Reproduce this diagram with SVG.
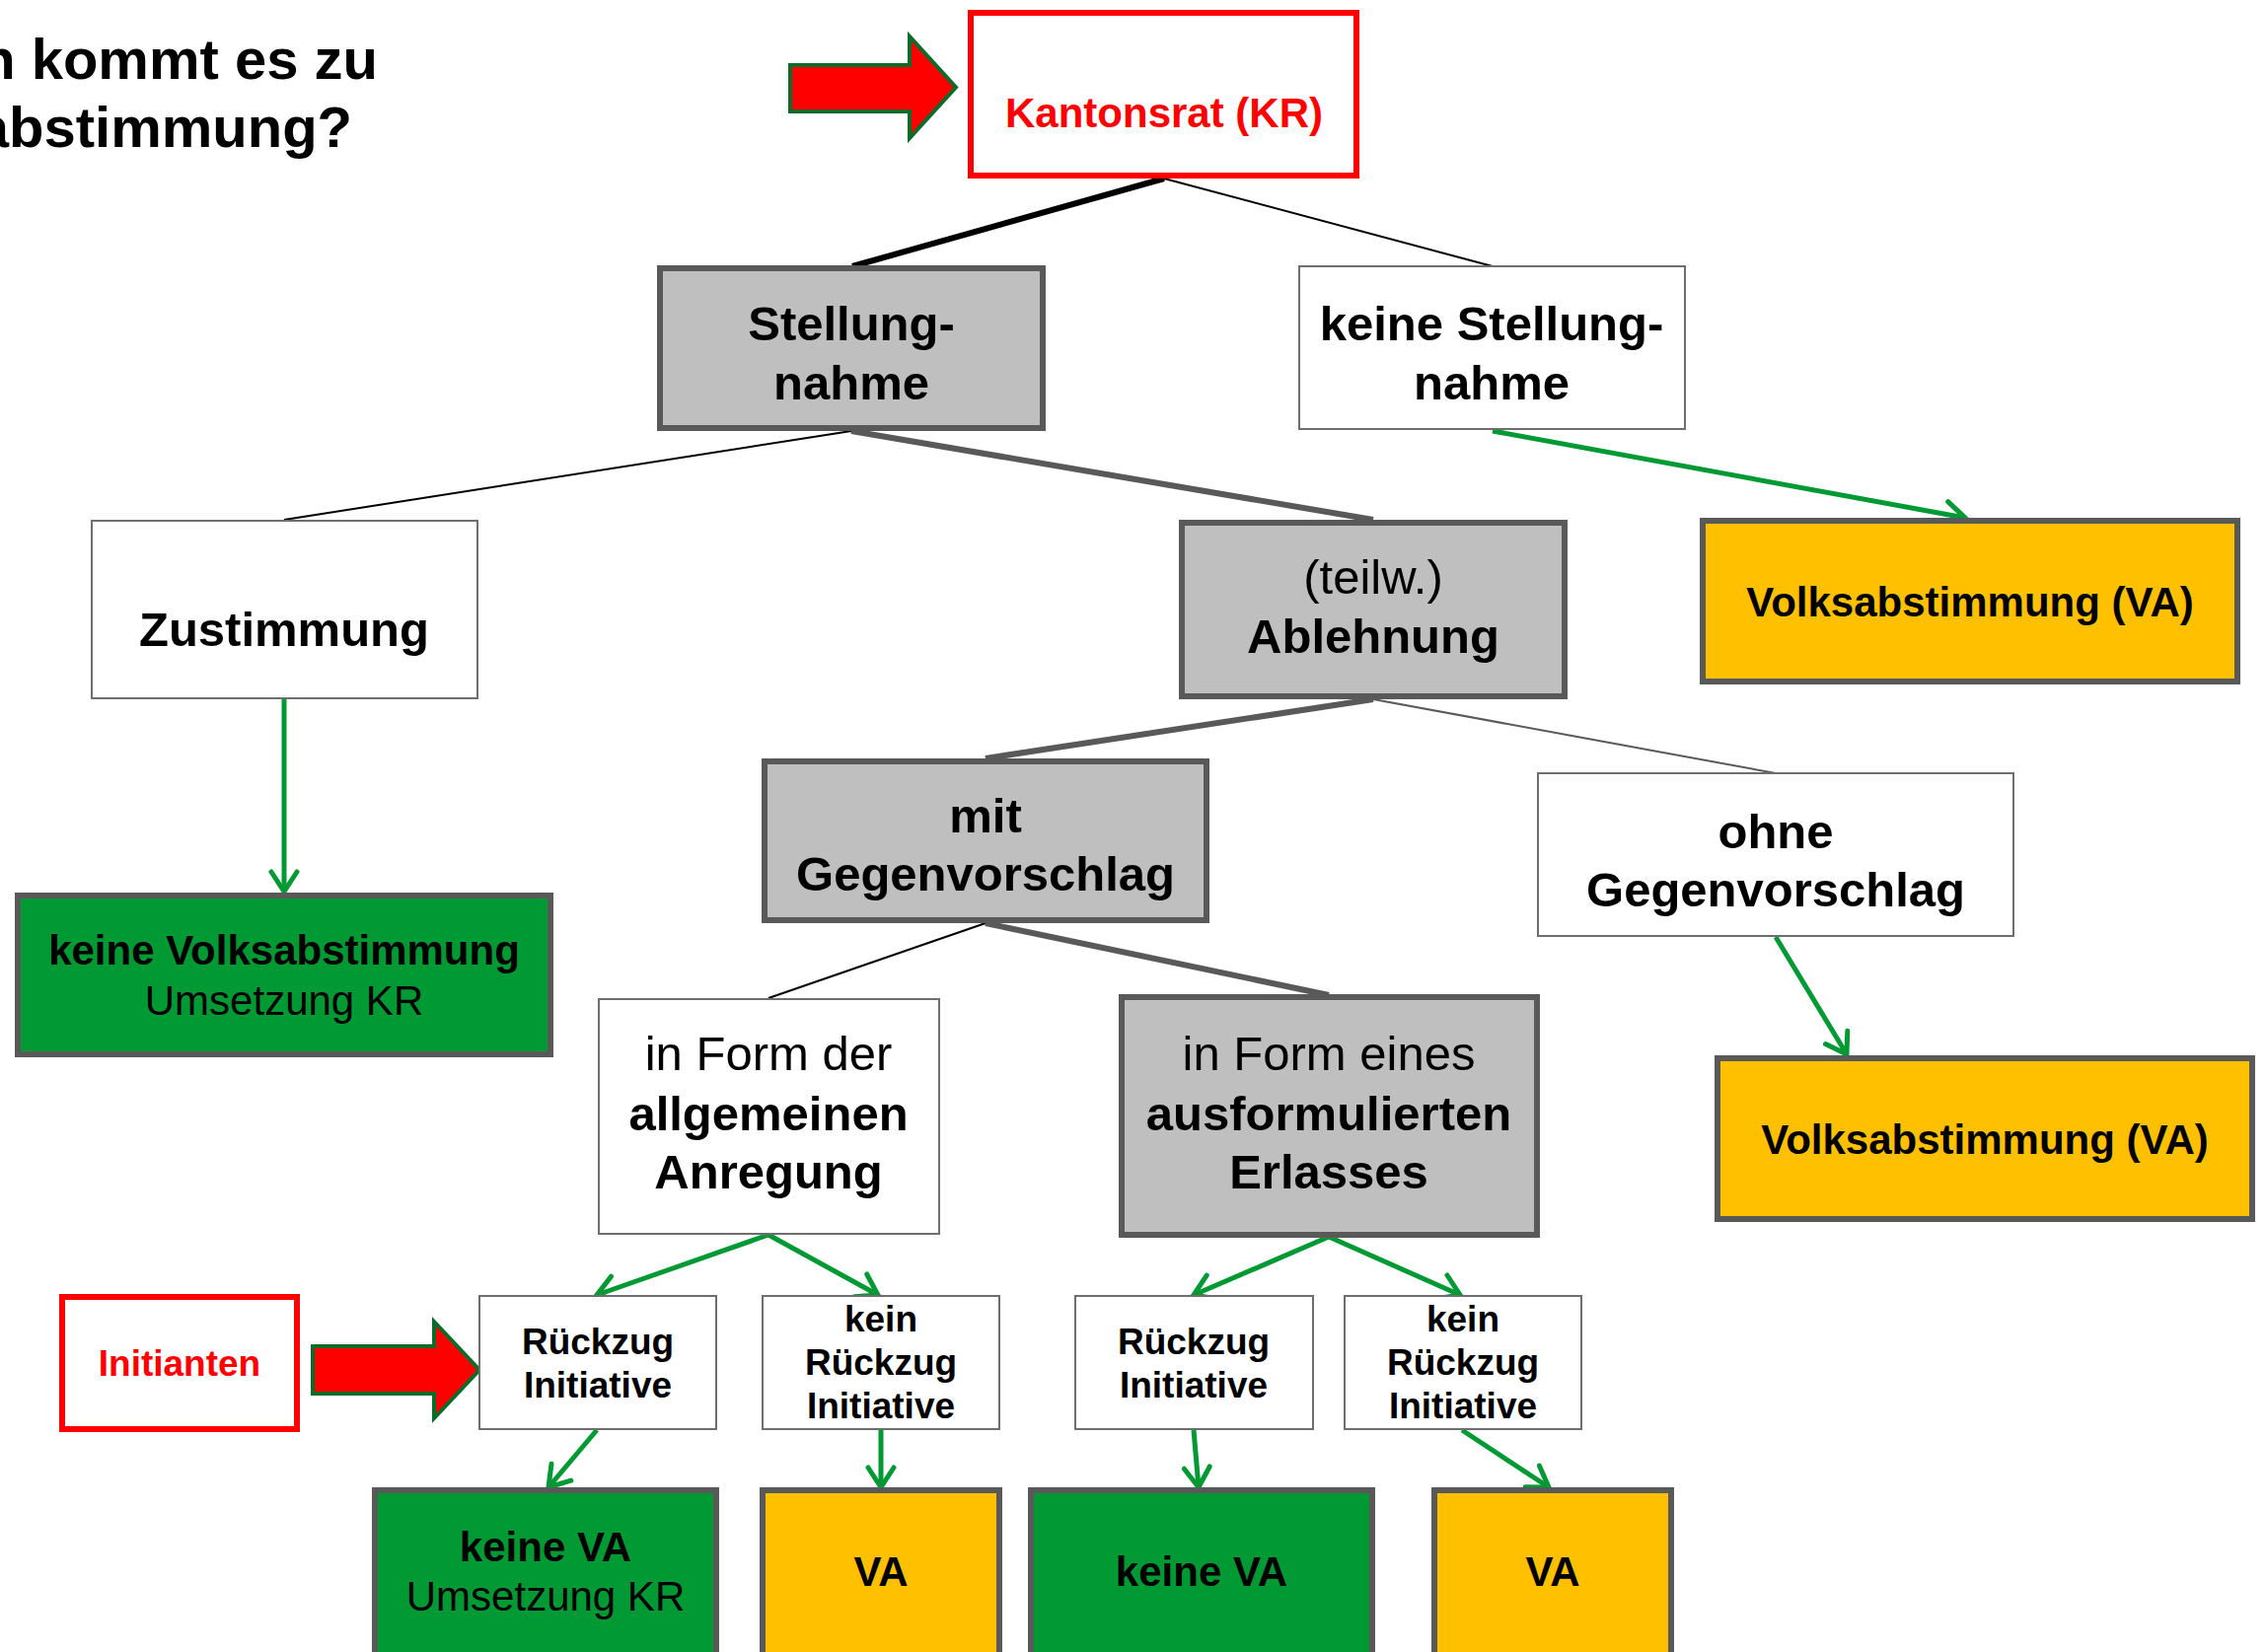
<svg xmlns="http://www.w3.org/2000/svg" width="2296" height="1675" viewBox="0 0 2296 1675">
<style>
text{font-family:"Liberation Sans",Arial,sans-serif;text-anchor:middle;fill:#000}
.b{font-weight:bold}
.gray{fill:#BFBFBF;stroke:#595959;stroke-width:6}
.white{fill:#FFFFFF;stroke:#6E6E6E;stroke-width:2}
.red{fill:#FFFFFF;stroke:#FF0000;stroke-width:6}
.orange{fill:#FFC000;stroke:#595959;stroke-width:6}
.green{fill:#009933;stroke:#595959;stroke-width:6}
.big{font-size:49px}
.mid{font-size:42px}
.sm{font-size:37px}
.thickblack{stroke:#000;stroke-width:6;fill:none}
.thickgray{stroke:#595959;stroke-width:6;fill:none}
.thin{stroke:#000;stroke-width:2;fill:none}
.thingray{stroke:#595959;stroke-width:2;fill:none}
.ga{stroke:#009933;stroke-width:5;fill:none;marker-end:url(#ah)}
.blk{fill:#FF0000;stroke:#0B6B2B;stroke-width:4}
</style>
<defs>
<marker id="ah" markerUnits="userSpaceOnUse" markerWidth="50" markerHeight="50" viewBox="-25 -25 50 50" refX="0" refY="0" orient="auto" overflow="visible">
<path d="M-20,-13 L0,0 L-20,13" fill="none" stroke="#009933" stroke-width="5" stroke-linecap="round"/>
</marker>
</defs>
<rect width="2296" height="1675" fill="#FFFFFF"/>

<g id="title" class="b" style="font-size:58px">
<text x="383" y="80" style="text-anchor:end">n kommt es zu</text>
<text x="357" y="149" style="text-anchor:end">abstimmung?</text>
</g>

<g id="connectors">
<line class="thickblack" x1="1180" y1="181" x2="864" y2="270"/>
<line class="thin" x1="1180" y1="181" x2="1513" y2="270"/>
<line class="thin" x1="863" y1="437" x2="288" y2="527"/>
<line class="thickgray" x1="863" y1="437" x2="1392" y2="527"/>
<line class="thickgray" x1="1392" y1="709" x2="999" y2="769"/>
<line class="thingray" x1="1392" y1="709" x2="1800" y2="784"/>
<line class="thin" x1="999" y1="936" x2="779" y2="1012"/>
<line class="thickgray" x1="999" y1="936" x2="1347" y2="1009"/>
<line class="ga" x1="1513" y1="437" x2="1992" y2="525"/>
<line class="ga" x1="288" y1="709" x2="288" y2="904"/>
<line class="ga" x1="1800" y1="950" x2="1872" y2="1069"/>
<line class="ga" x1="779" y1="1252" x2="605" y2="1313"/>
<line class="ga" x1="779" y1="1252" x2="890" y2="1313"/>
<line class="ga" x1="1347" y1="1254" x2="1210" y2="1313"/>
<line class="ga" x1="1347" y1="1254" x2="1480" y2="1313"/>
<line class="ga" x1="605" y1="1450" x2="556" y2="1508"/>
<line class="ga" x1="893" y1="1450" x2="893" y2="1508"/>
<line class="ga" x1="1210" y1="1450" x2="1215" y2="1508"/>
<line class="ga" x1="1482" y1="1450" x2="1570" y2="1508"/>
</g>

<g id="arrow-top"><polygon class="blk" points="801,66 922,66 922,37 969,88.5 922,140 922,113 801,113"/></g>
<g id="arrow-initianten"><polygon class="blk" points="317,1365 440,1365 440,1340 486,1389 440,1438 440,1413 317,1413"/></g>

<g id="n-kr"><rect class="red" x="984" y="13" width="391" height="165"/>
<text class="b mid" x="1180" y="129" style="fill:#FF0000">Kantonsrat (KR)</text></g>

<g id="n-stellungnahme"><rect class="gray" x="669" y="272" width="388" height="162"/>
<text class="b big" x="863" y="345">Stellung-</text><text class="b big" x="863" y="405">nahme</text></g>

<g id="n-keine-stellungnahme"><rect class="white" x="1317" y="270" width="391" height="165"/>
<text class="b big" x="1512" y="345">keine Stellung-</text><text class="b big" x="1512" y="405">nahme</text></g>

<g id="n-zustimmung"><rect class="white" x="93" y="528" width="391" height="180"/>
<text class="b big" x="288" y="655">Zustimmung</text></g>

<g id="n-ablehnung"><rect class="gray" x="1198" y="530" width="388" height="176"/>
<text class="big" x="1392" y="602">(teilw.)</text><text class="b big" x="1392" y="662">Ablehnung</text></g>

<g id="n-va1"><rect class="orange" x="1726" y="528" width="542" height="163"/>
<text class="b mid" x="1997" y="625">Volksabstimmung (VA)</text></g>

<g id="n-keine-volksabstimmung"><rect class="green" x="18" y="908" width="540" height="161"/>
<text class="b mid" x="288" y="978">keine Volksabstimmung</text><text class="mid" x="288" y="1029">Umsetzung KR</text></g>

<g id="n-mit"><rect class="gray" x="775" y="772" width="448" height="161"/>
<text class="b big" x="999" y="844">mit</text><text class="b big" x="999" y="903">Gegenvorschlag</text></g>

<g id="n-ohne"><rect class="white" x="1559" y="784" width="482" height="165"/>
<text class="b big" x="1800" y="860">ohne</text><text class="b big" x="1800" y="919">Gegenvorschlag</text></g>

<g id="n-va2"><rect class="orange" x="1741" y="1073" width="542" height="163"/>
<text class="b mid" x="2012" y="1170">Volksabstimmung (VA)</text></g>

<g id="n-allgemein"><rect class="white" x="607" y="1013" width="345" height="238"/>
<text class="big" x="779" y="1085">in Form der</text><text class="b big" x="779" y="1146">allgemeinen</text><text class="b big" x="779" y="1205">Anregung</text></g>

<g id="n-ausformuliert"><rect class="gray" x="1137" y="1011" width="421" height="241"/>
<text class="big" x="1347" y="1085">in Form eines</text><text class="b big" x="1347" y="1146">ausformulierten</text><text class="b big" x="1347" y="1205">Erlasses</text></g>

<g id="n-initianten"><rect class="red" x="63" y="1315" width="238" height="134"/>
<text class="b sm" x="182" y="1395" style="fill:#FF0000">Initianten</text></g>

<g id="n-rueckzug1"><rect class="white" x="486" y="1314" width="240" height="135"/>
<text class="b sm" x="606" y="1373">Rückzug</text><text class="b sm" x="606" y="1417">Initiative</text></g>

<g id="n-kein-rueckzug1"><rect class="white" x="773" y="1314" width="240" height="135"/>
<text class="b sm" x="893" y="1350">kein</text><text class="b sm" x="893" y="1394">Rückzug</text><text class="b sm" x="893" y="1438">Initiative</text></g>

<g id="n-rueckzug2"><rect class="white" x="1090" y="1314" width="241" height="135"/>
<text class="b sm" x="1210" y="1373">Rückzug</text><text class="b sm" x="1210" y="1417">Initiative</text></g>

<g id="n-kein-rueckzug2"><rect class="white" x="1363" y="1314" width="240" height="135"/>
<text class="b sm" x="1483" y="1350">kein</text><text class="b sm" x="1483" y="1394">Rückzug</text><text class="b sm" x="1483" y="1438">Initiative</text></g>

<g id="n-keine-va1"><rect class="green" x="380" y="1511" width="346" height="200"/>
<text class="b mid" x="553" y="1583">keine VA</text><text class="mid" x="553" y="1633">Umsetzung KR</text></g>

<g id="n-va-b1"><rect class="orange" x="773" y="1511" width="240" height="200"/>
<text class="b mid" x="893" y="1608">VA</text></g>

<g id="n-keine-va2"><rect class="green" x="1045" y="1511" width="346" height="200"/>
<text class="b mid" x="1218" y="1608">keine VA</text></g>

<g id="n-va-b2"><rect class="orange" x="1454" y="1511" width="240" height="200"/>
<text class="b mid" x="1574" y="1608">VA</text></g>
</svg>
